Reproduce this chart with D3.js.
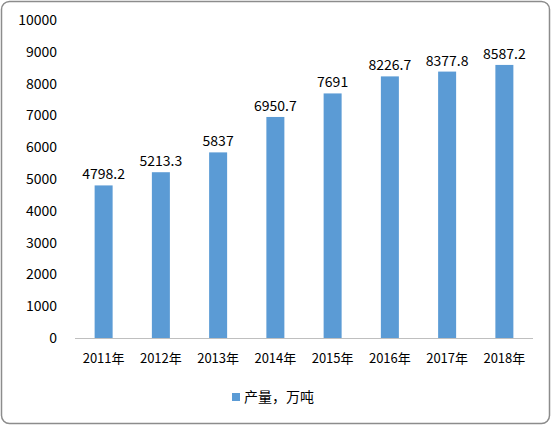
<!DOCTYPE html>
<html><head><meta charset="utf-8">
<script src="https://cdn.jsdelivr.net/npm/d3@7"></script>
<style>body{margin:0;background:#fff}svg{display:block;font-family:"Noto Sans CJK SC","Liberation Sans",sans-serif}</style>
</head><body><svg width="552" height="426"></svg>
<script>
const years = ["2011年","2012年","2013年","2014年","2015年","2016年","2017年","2018年"];
const output = [4798.2, 5213.3, 5837, 6950.7, 7691, 8226.7, 8377.8, 8587.2];
const yTicks = [0,1000,2000,3000,4000,5000,6000,7000,8000,9000,10000];
const seriesName = "产量，万吨";

const svg = d3.select("svg");
svg.append("rect").attr("x",1.5).attr("y",1.5).attr("width",548).attr("height",422)
  .attr("rx",8).attr("fill","#fff").attr("stroke","#8c8c8c").attr("stroke-width",1.5);

const x = d3.scaleBand().domain(years).range([75,533]);
const y = d3.scaleLinear().domain([0,10000]).range([338,20]);

svg.selectAll(".yl").data(yTicks).enter().append("text")
  .attr("x",57).attr("y",d=>y(d)).attr("dy","0.35em").attr("text-anchor","end")
  .attr("font-size",14).attr("fill","#000").text(d=>d);

svg.append("line").attr("x1",75).attr("x2",533).attr("y1",338.5).attr("y2",338.5)
  .attr("stroke","#bfbfbf");

const bw = 18;
svg.selectAll(".bar").data(output).enter().append("rect")
  .attr("x",(d,i)=>x(years[i])+x.bandwidth()/2-bw/2).attr("width",bw)
  .attr("y",d=>y(d)).attr("height",d=>338-y(d)).attr("fill","#5b9bd5");

svg.selectAll(".vl").data(output).enter().append("text")
  .attr("x",(d,i)=>x(years[i])+x.bandwidth()/2).attr("y",d=>y(d)-6)
  .attr("text-anchor","middle").attr("font-size",14).text(d=>d);

svg.selectAll(".xl").data(years).enter().append("text")
  .attr("x",d=>x(d)+x.bandwidth()/2).attr("y",358).attr("dy","0.35em")
  .attr("text-anchor","middle").attr("font-size",13).text(d=>d);

svg.append("rect").attr("x",232).attr("y",393).attr("width",8).attr("height",8).attr("fill","#5b9bd5");
svg.append("text").attr("x",244).attr("y",397).attr("dy","0.35em").attr("font-size",14).text(seriesName);
</script></body></html>
